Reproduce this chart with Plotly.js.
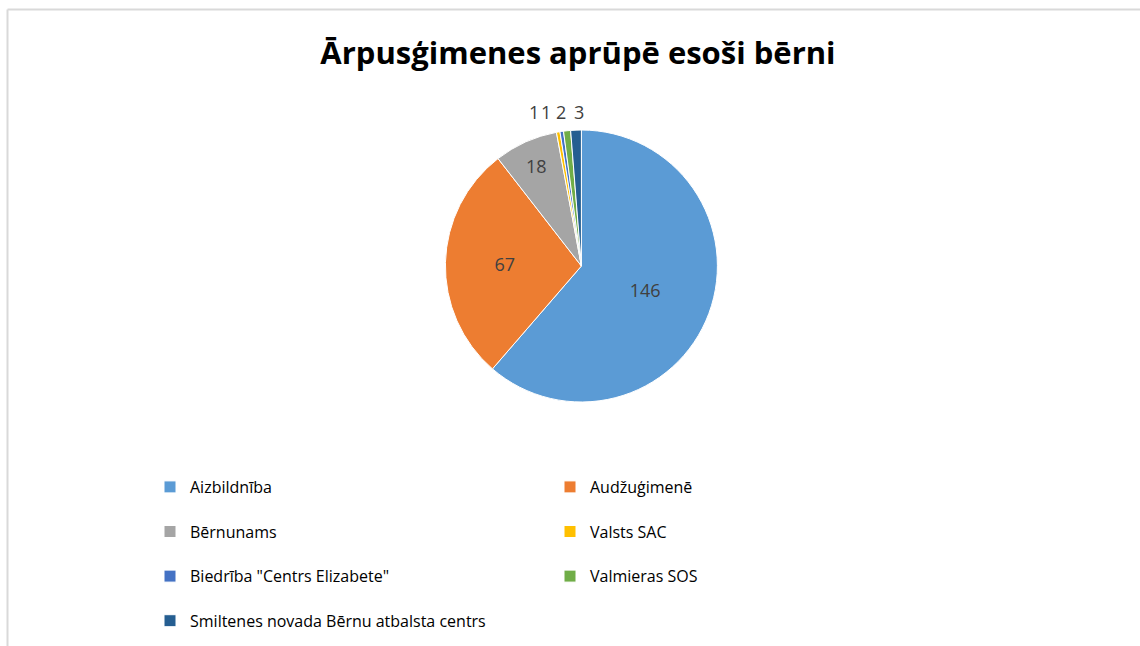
<!DOCTYPE html>
<html>
<head>
<meta charset="utf-8">
<script src="https://cdn.plot.ly/plotly-3.0.1.min.js"></script>
<style>
html,body{margin:0;padding:0;background:#fff;}
#chart{width:1140px;height:646px;}
</style>
</head>
<body>
<div id="chart"></div>
<script>
const categories = ['Aizbildnība', 'Audžuģimenē', 'Bērnunams', 'Valsts SAC', 'Biedrība "Centrs Elizabete"', 'Valmieras SOS', 'Smiltenes novada Bērnu atbalsta centrs'];
const values = [146, 67, 18, 1, 1, 2, 3];
const colors = ['#5B9BD5', '#ED7D31', '#A5A5A5', '#FFC000', '#4472C4', '#70AD47', '#255E91'];
const chartTitle = 'Ārpusģimenes aprūpē esoši bērni';

const W = 1140, H = 646;
const FONT = '"Open Sans", sans-serif';
const bigSlice = values.map(v => v >= 10);
// legend rows are spaced out by a blank second line (not needed on the last row)
const legendLabels = categories.map((c, i) => i < categories.length - 1 ? c + '<br> ' : c);

const trace = {
  type: 'pie',
  labels: legendLabels,
  values: values,
  sort: false,
  direction: 'clockwise',
  rotation: 0,
  marker: {colors: colors, line: {color: '#ffffff', width: 1}},
  texttemplate: bigSlice.map(b => b ? '%{value}' : ''),
  textposition: 'inside',
  insidetextorientation: 'horizontal',
  textfont: {family: FONT, size: 18, color: '#404040'},
  hoverinfo: 'label+value',
  domain: {x: [0.3, 0.72], y: [1 - 402 / H, 1 - 130 / H]},
  automargin: false
};

// value labels of the thin slices, written in a row above the pie
const smallIdx = values.map((v, i) => i).filter(i => !bigSlice[i]);
const smallX = [534, 546, 561, 579];
const annotations = smallIdx.map((i, k) => ({
  xref: 'paper', yref: 'paper',
  x: smallX[k] / W, y: 1 - 112 / H,
  xanchor: 'center', yanchor: 'middle',
  text: String(values[i]),
  showarrow: false,
  font: {family: FONT, size: 18, color: '#404040'}
}));

const layout = {
  width: W, height: H,
  margin: {l: 0, r: 0, t: 0, b: 0},
  paper_bgcolor: '#ffffff',
  title: {
    text: '<b>' + chartTitle + '</b>',
    font: {family: FONT, size: 31, color: '#000000'},
    x: 0.507, xanchor: 'center', y: 1 - 53 / H, yanchor: 'middle'
  },
  showlegend: true,
  legend: {
    orientation: 'h',
    x: 150 / W, xanchor: 'left',
    y: 1 - 470 / H, yanchor: 'top',
    entrywidth: 355,
    valign: 'top',
    font: {family: FONT, size: 16, color: '#000000'},
    traceorder: 'normal'
  },
  annotations: annotations,
  shapes: [
    {type: 'line', xref: 'paper', yref: 'paper', x0: 7.5 / W, x1: 1, y0: 1 - 9.5 / H, y1: 1 - 9.5 / H, line: {color: '#D9D9D9', width: 2}},
    {type: 'line', xref: 'paper', yref: 'paper', x0: 7.5 / W, x1: 7.5 / W, y0: 0, y1: 1 - 9.5 / H, line: {color: '#D9D9D9', width: 2}}
  ]
};

Plotly.newPlot('chart', [trace], layout, {displayModeBar: false, staticPlot: true});
</script>
</body>
</html>
